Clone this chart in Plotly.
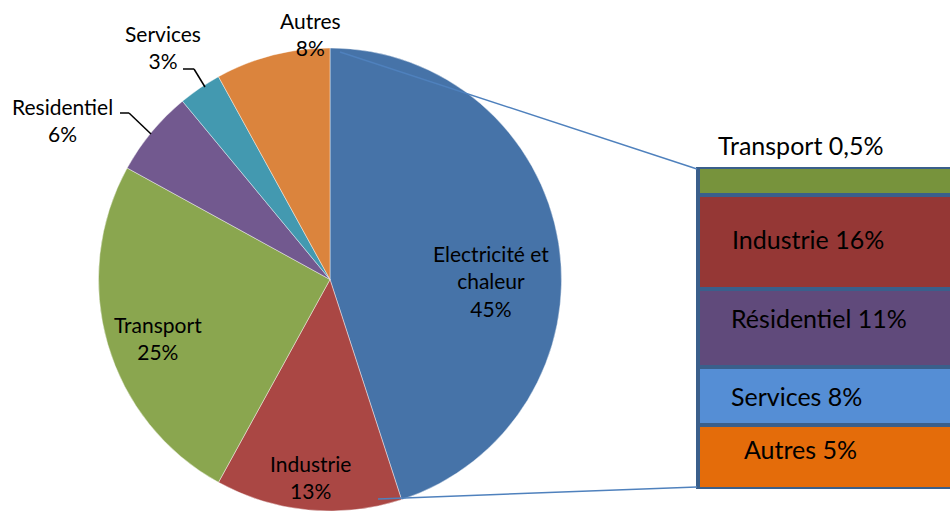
import plotly.graph_objects as go

# ---- data ----
pie_labels = ["Electricité et chaleur", "Industrie", "Transport", "Residentiel", "Services", "Autres"]
pie_text_labels = ["Electricité et<br>chaleur", "Industrie", "Transport", "Residentiel", "Services", "Autres"]
pie_values = [45, 13, 25, 6, 3, 8]
pie_colors = ["#4673A8", "#AA4744", "#8AA64F", "#72598F", "#4399B0", "#DB843D"]

detail_labels = ["Transport", "Industrie", "Résidentiel", "Services", "Autres"]
detail_values = [0.5, 16, 11, 8, 5]
# box heights as drawn in the breakdown column (arbitrary units)
detail_box_size = [0.9, 3.0, 2.47, 1.84, 2.05]
detail_colors = ["#77933C", "#953735", "#604A7B", "#558ED5", "#E46C0A"]

W, H = 950, 511
FONT = "Lato"


def px(x, y):
    return x / W, 1 - y / H


def fmt(v):
    s = ("%g" % v).replace(".", ",")
    return s + "%"


fig = go.Figure()

fig.add_trace(go.Pie(
    labels=pie_labels, values=pie_values, sort=False, direction="clockwise",
    rotation=0, textinfo="none", hoverinfo="label+percent",
    marker=dict(colors=pie_colors, line=dict(color="rgba(255,255,255,0.7)", width=0.6)),
    domain=dict(x=[97 / W, 563 / W], y=[0, 1 - 48 / H]),
    showlegend=False,
))

# stacked breakdown column (Transport on top)
for lab, val, size, col in reversed(list(zip(detail_labels, detail_values, detail_box_size, detail_colors))):
    fig.add_trace(go.Bar(
        x=[0.6], y=[size], width=[1.2], name=lab,
        marker=dict(color=col, line=dict(color="#3A5F8B", width=4)),
        xaxis="x2", yaxis="y2", showlegend=False, hoverinfo="name",
    ))

total = sum(detail_box_size)
fig.update_layout(
    width=W, height=H, margin=dict(l=0, r=0, t=0, b=0),
    paper_bgcolor="white", plot_bgcolor="rgba(0,0,0,0)",
    barmode="stack",
    font=dict(family=FONT, color="#000000"),
    xaxis2=dict(domain=[695 / W, 1], range=[-0.01, 1], visible=False, fixedrange=True),
    yaxis2=dict(domain=[1 - 489 / H, 1 - 167 / H], range=[0, total], visible=False, fixedrange=True),
)

annotations = []
# pie labels
pie_label_pos = [(491, 281), (310, 477), (158, 338), (62, 120), (163, 47), (310, 34)]
for t, v, (x, y) in zip(pie_text_labels, pie_values, pie_label_pos):
    xp, yp = px(x, y)
    annotations.append(dict(x=xp, y=yp, xref="paper", yref="paper", showarrow=False,
                            text=f"{t}<br>{v}%", font=dict(size=21, family=FONT, color="#000"),
                            align="center", xanchor="center", yanchor="middle"))

# breakdown labels
detail_label_pos = [(716, 145), (730, 239), (729, 318), (729, 396), (742, 449)]
for lab, v, (x, y) in zip(detail_labels, detail_values, detail_label_pos):
    xp, yp = px(x, y)
    annotations.append(dict(x=xp, y=yp, xref="paper", yref="paper", showarrow=False,
                            text=f"{lab} {fmt(v)}", font=dict(size=25, family=FONT, color="#000"),
                            xanchor="left", yanchor="middle"))
fig.update_layout(annotations=annotations)

shapes = []


def seg(x0, y0, x1, y1, color, width):
    a = px(x0, y0)
    b = px(x1, y1)
    shapes.append(dict(type="line", xref="paper", yref="paper", x0=a[0], y0=a[1], x1=b[0], y1=b[1],
                       line=dict(color=color, width=width)))


# connectors from pie to breakdown column
seg(340, 52, 697, 169, "#4F81BD", 1.5)
seg(378, 499, 697, 487, "#4F81BD", 1.5)
# leader lines
seg(120, 113, 129, 113, "#000000", 1.5)
seg(129, 113, 151, 134, "#000000", 1.5)
seg(183, 69, 194, 69, "#000000", 1.5)
seg(194, 69, 205, 87, "#000000", 1.5)
fig.update_layout(shapes=shapes)

fig.write_html("out.html", config={"displayModeBar": False},
               post_script="document.body.style.margin='0';document.body.style.overflow='hidden';")
